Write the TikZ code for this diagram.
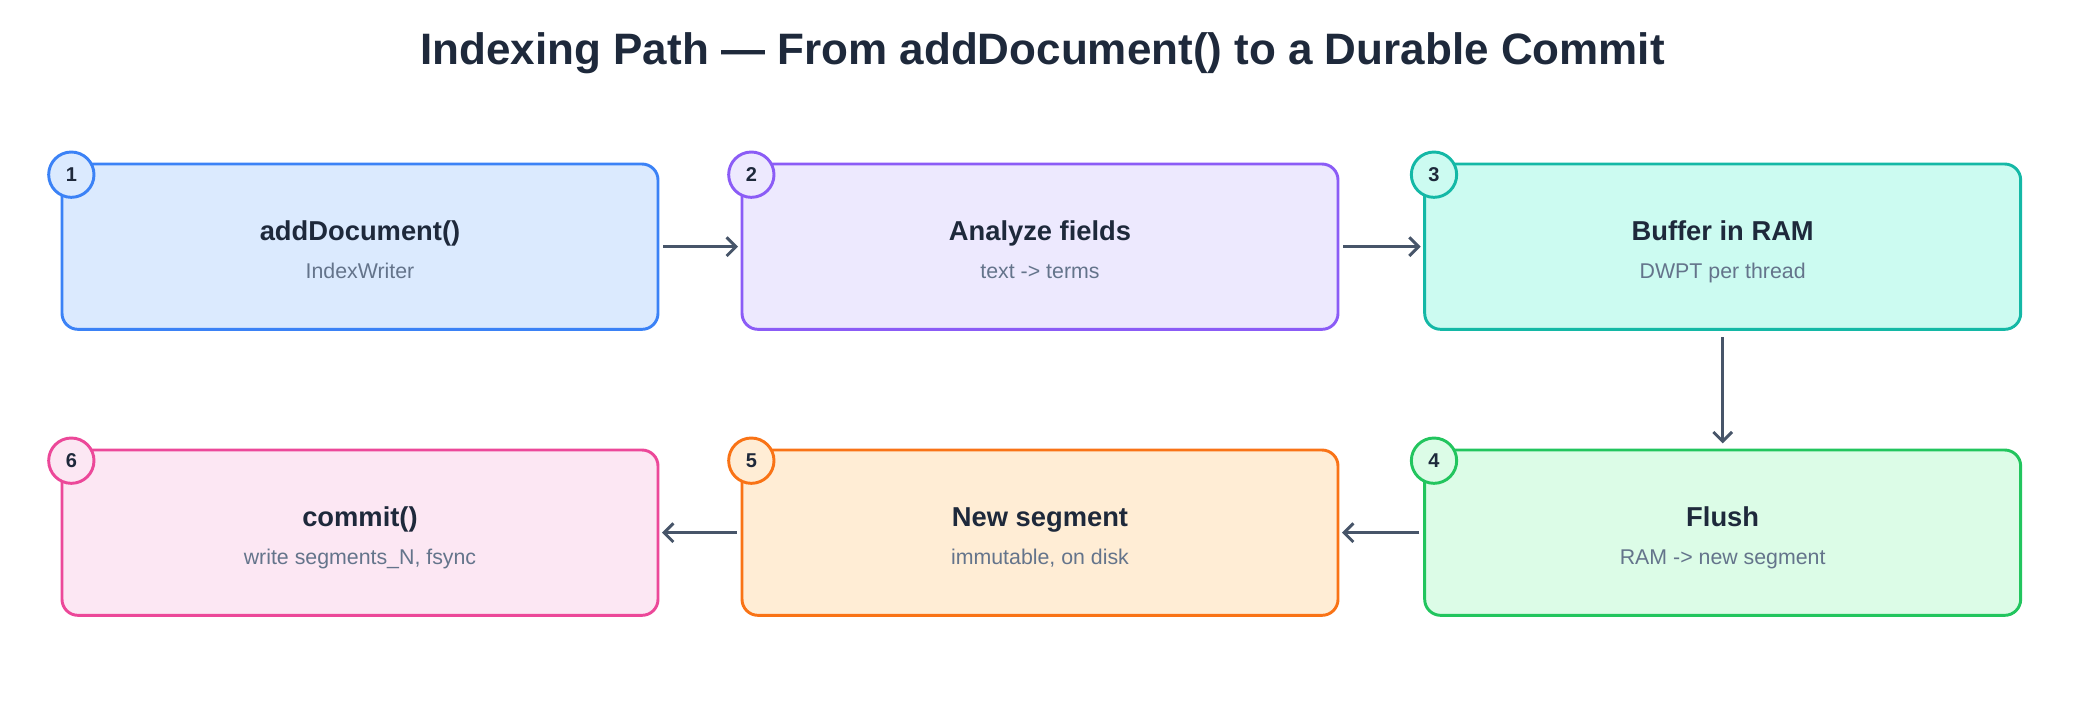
\documentclass[tikz,border=0pt]{standalone}
\usepackage{fontspec}
\setmainfont{Liberation Sans}
\usetikzlibrary{arrows.meta}
\definecolor{tx}{HTML}{1E293B}\definecolor{sub}{HTML}{64748B}\definecolor{ar}{HTML}{475569}
\definecolor{bA}{HTML}{3B82F6}\definecolor{fA}{HTML}{DBEAFE}
\definecolor{bB}{HTML}{8B5CF6}\definecolor{fB}{HTML}{EDE9FE}
\definecolor{bC}{HTML}{14B8A6}\definecolor{fC}{HTML}{CCFBF1}
\definecolor{bD}{HTML}{22C55E}\definecolor{fD}{HTML}{DCFCE7}
\definecolor{bE}{HTML}{F97316}\definecolor{fE}{HTML}{FFEDD5}
\definecolor{bF}{HTML}{EC4899}\definecolor{fF}{HTML}{FCE7F3}
\tikzset{
 box/.style={draw=#1,line width=2.2pt,rounded corners=12pt,minimum width=447pt,minimum height=124pt,outer sep=0pt},
 num/.style={circle,draw=#1,line width=2.2pt,minimum size=34pt,inner sep=0pt,font=\bfseries\fontsize{15}{17}\selectfont,text=tx},
 ttl/.style={anchor=base,font=\bfseries\fontsize{20.5}{24}\selectfont,text=tx},
 st/.style={anchor=base,font=\fontsize{16}{19}\selectfont,text=sub},
 arr/.style={draw=ar,line width=2.2pt,-{Straight Barb[length=7pt,width=14pt]}}
}
\newcommand{\stepbox}[8]{% name x y border fill num title sub
 \node[box=#4,fill=#5] (#1) at (#2,#3) {};
 \node[num=#4,fill=#5] (#1n) at ([xshift=7pt,yshift=-8pt]#1.north west) {#6};
 \node[ttl] (#1t) at ([yshift=5pt]#1.center) {#7};
 \node[st] (#1s) at ([yshift=-24pt]#1.center) {#8};}
\begin{document}
\begin{tikzpicture}[x=1pt,y=-1pt]
\useasboundingbox (0,0) rectangle (1560,528);
\node[font=\bfseries\fontsize{33}{38}\selectfont,text=tx] (title) at (782,40) {Indexing Path — From addDocument() to a Durable Commit};
\stepbox{a}{270}{185}{bA}{fA}{1}{addDocument()}{IndexWriter}
\stepbox{b}{780}{185}{bB}{fB}{2}{Analyze fields}{text -> terms}
\stepbox{c}{1292}{185}{bC}{fC}{3}{Buffer in RAM}{DWPT per thread}
\stepbox{d}{1292}{399.5}{bD}{fD}{4}{Flush}{RAM -> new segment}
\stepbox{e}{780}{399.5}{bE}{fE}{5}{New segment}{immutable, on disk}
\stepbox{f}{270}{399.5}{bF}{fF}{6}{commit()}{write segments\_N, fsync}
\draw[arr] ([xshift=4pt]a.east) -- ([xshift=-3pt]b.west);
\draw[arr] ([xshift=4pt]b.east) -- ([xshift=-3pt]c.west);
\draw[arr] ([yshift=-6pt]c.south) -- ([yshift=5pt]d.north);
\draw[arr] ([xshift=-4pt]d.west) -- ([xshift=3pt]e.east);
\draw[arr] ([xshift=-4pt]e.west) -- ([xshift=3pt]f.east);
\end{tikzpicture}
\end{document}
